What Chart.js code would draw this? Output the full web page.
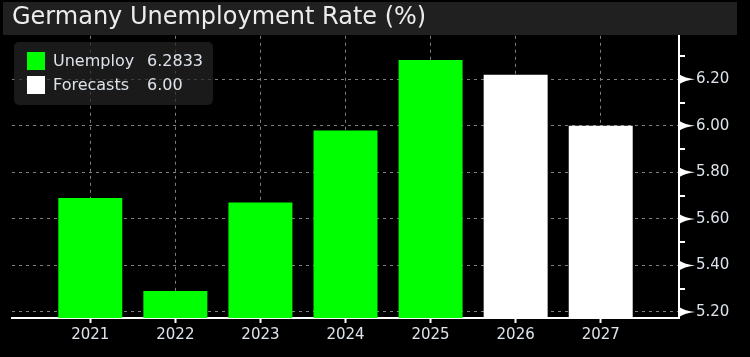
<!DOCTYPE html>
<html><head><meta charset="utf-8">
<script src="https://cdn.jsdelivr.net/npm/chart.js@4/dist/chart.umd.min.js"></script>
<style>html,body{margin:0;padding:0;background:#000;overflow:hidden}</style>
</head><body>
<canvas id="c" width="750" height="357"></canvas>
<script>
const years = ['2021', '2022', '2023', '2024', '2025', '2026', '2027'];
const actualValues = [5.69, 5.29, 5.67, 5.98, 6.2833];
const forecastValues = [6.22, 6.00];
const yTicks = [5.2, 5.4, 5.6, 5.8, 6.0, 6.2];
const yMinorTicks = [5.3, 5.5, 5.7, 5.9, 6.1, 6.3];
const seriesNames = ['Unemploy', 'Forecasts'];
const legendValues = [actualValues[actualValues.length - 1].toFixed(4), forecastValues[forecastValues.length - 1].toFixed(2)];
const titleText = 'Germany Unemployment Rate (%)';

const GREEN = '#00ff00', WHITE = '#ffffff', GRID = '#808080', TXT = '#dde3ea';
const FONT = "'DejaVu Sans', Verdana, sans-serif";

const actualData = actualValues.map((v, i) => ({x: i, y: v}));
const forecastData = forecastValues.map((v, i) => ({x: actualValues.length + i, y: v}));

const bgPlugin = {
  id: 'bg',
  beforeDraw(chart) {
    const ctx = chart.ctx;
    ctx.save();
    ctx.fillStyle = '#000';
    ctx.fillRect(0, 0, chart.width, chart.height);
    ctx.fillStyle = '#202020';
    ctx.fillRect(3, 2, 734, 33);
    ctx.restore();
  }
};

const axisMarks = {
  id: 'axisMarks',
  afterDatasetsDraw(chart) {
    const ctx = chart.ctx, ys = chart.scales.y, x0 = chart.chartArea.right;
    ctx.save();
    ctx.fillStyle = WHITE;
    yTicks.forEach(v => {
      const py = ys.getPixelForValue(v);
      ctx.beginPath();
      ctx.moveTo(x0, py - 5);
      ctx.quadraticCurveTo(x0 + 6, py - 1, x0 + 16, py);
      ctx.quadraticCurveTo(x0 + 6, py + 1, x0, py + 5);
      ctx.closePath();
      ctx.fill();
    });
    yMinorTicks.forEach(v => {
      const py = ys.getPixelForValue(v);
      ctx.fillRect(x0, Math.round(py) - 1, 6, 2);
    });
    ctx.restore();
  }
};

const legendBox = {
  id: 'legendBox',
  afterDraw(chart) {
    const ctx = chart.ctx;
    ctx.save();
    ctx.fillStyle = 'rgba(36,36,36,0.72)';
    ctx.beginPath();
    ctx.roundRect(14, 42, 199, 63, 5);
    ctx.fill();
    const rows = [61, 85];
    chart.data.datasets.forEach((ds, i) => {
      ctx.fillStyle = ds.backgroundColor;
      ctx.fillRect(27, rows[i] - 9, 18, 18);
      ctx.fillStyle = TXT;
      ctx.font = '16px ' + FONT;
      ctx.textBaseline = 'middle';
      ctx.textAlign = 'left';
      ctx.fillText(ds.label, 53, rows[i] + 1);
      ctx.fillText(legendValues[i], 147, rows[i] + 1);
    });
    ctx.restore();
  }
};

new Chart(document.getElementById('c'), {
  type: 'bar',
  data: {
    datasets: [
      {label: seriesNames[0], data: actualData, backgroundColor: GREEN, borderWidth: 0, grouped: false, barPercentage: 0.752, categoryPercentage: 1},
      {label: seriesNames[1], data: forecastData, backgroundColor: WHITE, borderWidth: 0, grouped: false, barPercentage: 0.752, categoryPercentage: 1}
    ]
  },
  options: {
    responsive: false,
    animation: false,
    devicePixelRatio: 1,
    layout: {padding: {left: 12, right: 0, top: 0, bottom: 0}},
    plugins: {
      legend: {display: false},
      tooltip: {enabled: false},
      title: {
        display: true, text: titleText, align: 'start', color: '#ececec',
        font: {family: FONT, size: 24, weight: 'normal'},
        padding: {top: 3, bottom: 4}
      }
    },
    scales: {
      x: {
        type: 'linear', min: -0.92, max: 6.92, position: 'bottom', offset: false,
        afterBuildTicks: s => { s.ticks = years.map((_, i) => ({value: i})); },
        afterFit: s => { s.height = 39; },
        ticks: {color: TXT, font: {family: FONT, size: 15}, padding: 3, callback: v => years[v], maxRotation: 0, autoSkip: false},
        grid: {offset: false, color: GRID, lineWidth: 1, drawTicks: true, tickLength: 5, tickColor: WHITE, tickWidth: 2},
        border: {display: true, color: WHITE, width: 2, dash: [3, 4]}
      },
      y: {
        type: 'linear', position: 'right', min: 5.174, max: 6.387,
        afterBuildTicks: s => { s.ticks = yTicks.map(v => ({value: v})); },
        afterFit: s => { s.width = 71; },
        ticks: {color: TXT, font: {family: FONT, size: 15}, padding: 17, callback: v => v.toFixed(2)},
        grid: {color: GRID, lineWidth: 1, drawTicks: false},
        border: {display: true, color: WHITE, width: 2, dash: [3, 4]}
      }
    }
  },
  plugins: [bgPlugin, axisMarks, legendBox]
});
</script>
</body></html>
